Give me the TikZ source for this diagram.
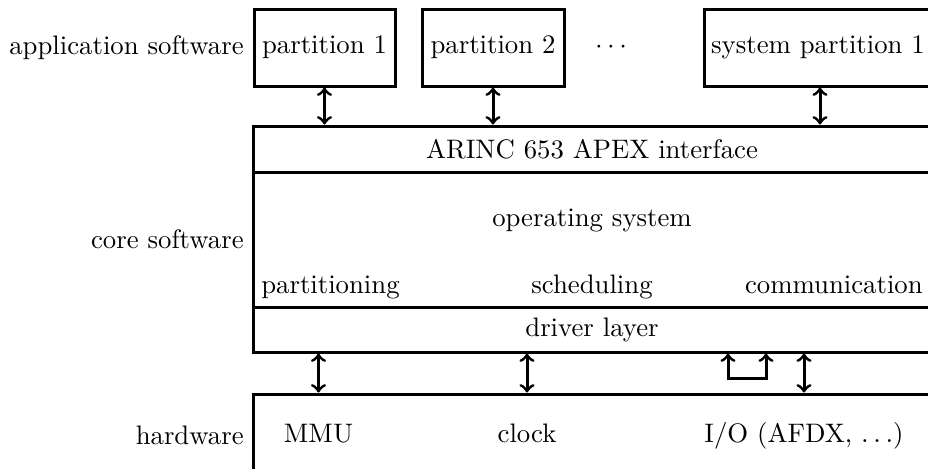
\documentclass[tikz,border=0pt]{standalone}
\usetikzlibrary{calc}
\begin{document}
\begin{tikzpicture}[x=0.4pt, y=-0.4pt,
  font=\fontsize{10.7pt}{13pt}\selectfont,
  blk/.style={draw, very thick, inner sep=0pt},
  side/.style={anchor=east, inner sep=3.33pt},
  link/.style={very thick, <->}]
\useasboundingbox (0,0) rectangle (928,468);
\clip (0,0) rectangle (928,468);

% application partitions
\node[blk, minimum width=56.4pt, minimum height=30.8pt] (p1) at (324.5,47.5) {partition 1};
\node[blk, minimum width=56.8pt, minimum height=30.8pt] (p2) at (493,47.5) {partition 2};
\node[blk, minimum width=91.2pt, minimum height=30.8pt] (sp1) at (818,47.5) {system partition 1};
\node[anchor=base] (dots) at (611,0 |- p1.base) {$\cdots$};

% core software stack
\node[blk, minimum width=270.4pt, minimum height=18.4pt] (arinc) at (592,149) {ARINC 653 APEX interface};
\node[blk, minimum width=270.4pt, minimum height=54pt] (os) at (592,239.5) {};
\node (ostitle) at (592,220) {operating system};
\node[anchor=base west, inner sep=3.33pt] (part) at ([yshift=6pt]os.south west) {partitioning};
\node[anchor=base] (sched) at (os.south |- part.base) {scheduling};
\node[anchor=base east, inner sep=3.33pt] (comm) at (os.south east |- part.base) {communication};
\node[blk, minimum width=270.4pt, minimum height=18pt] (drv) at (592,329.5) {driver layer};

% hardware
\node[blk, minimum width=270.4pt, minimum height=32.8pt] (hw) at (592,435) {};
\node[anchor=base] (mmu) at (318.5,442) {MMU};
\node[anchor=base] (clk) at (527,442) {clock};
\node[anchor=base] (io) at (804,442) {I/O (AFDX, $\ldots$)};

% layer labels
\node[side] (lapp) at (p1.west) {application software};
\node[side] (lcore) at ($(arinc.north west)!0.5!(drv.south west)$) {core software};
\node[side] (lhw) at (hw.west) {hardware};

% partitions to APEX interface
\draw[link] (p1.south) -- (p1.south |- arinc.north);
\draw[link] (p2.south) -- (p2.south |- arinc.north);
\draw[link] ([xshift=0.8pt]sp1.south) -- ([xshift=0.8pt]sp1.south |- arinc.north);

% driver layer to hardware
\draw[link] (drv.south -| mmu) -- (hw.north -| mmu);
\draw[link] (drv.south -| clk) -- (hw.north -| clk);
\draw[link] (drv.south -| io) -- (hw.north -| io);
\coordinate (loopa) at (728,378);
\coordinate (loopb) at (766,378);
\draw[link] (loopa |- drv.south) -- (loopa) -- (loopb) -- (loopb |- drv.south);
\end{tikzpicture}
\end{document}
